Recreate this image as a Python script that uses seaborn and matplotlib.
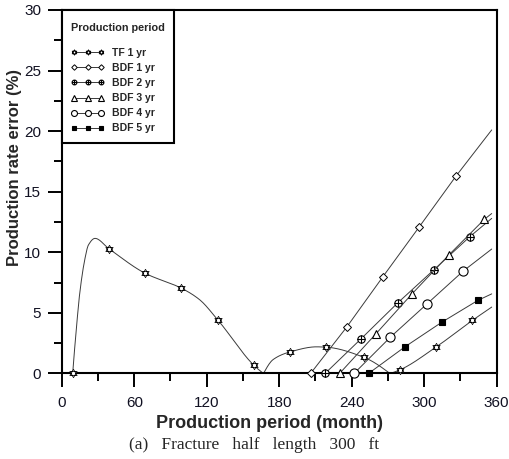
import numpy as np
import pandas as pd
import matplotlib
matplotlib.use("Agg")
import matplotlib.pyplot as plt
from matplotlib.path import Path
from matplotlib.lines import Line2D
from matplotlib.ticker import MultipleLocator
import seaborn as sns

# ---- data (production rate error, %) ----
tf_month = [9, 39, 69, 99, 129, 159, 189, 219, 250, 280, 310, 340]
tf_error = [0.0, 10.3, 8.27, 7.04, 4.44, 0.68, 1.78, 2.17, 1.34, 0.3, 2.19, 4.38]
# additional points on the TF curve (early peak, sign changes, last month)
tf_extra_month = [12.3, 15, 19.2, 22, 27.5, 114, 167, 175, 211, 271.7, 356]
tf_extra_error = [4.0, 6.76, 9.5, 10.6, 11.15, 6.1, 0.0, 1.15, 2.2, 0.0, 5.48]

bdf1_month = [206, 236, 266, 296, 326.5, 356]
bdf1_error = [0.0, 3.84, 8.0, 12.1, 16.3, 20.1]
bdf2_month = [218, 248, 278, 308, 338, 356]
bdf2_error = [0.0, 2.88, 5.81, 8.55, 11.3, 12.8]
bdf3_month = [230, 260, 290, 320.5, 350, 356]
bdf3_error = [0.0, 3.26, 6.57, 9.78, 12.73, 13.2]
bdf4_month = [242, 272, 302.5, 332.5, 356]
bdf4_error = [0.0, 2.99, 5.75, 8.46, 10.27]
bdf5_month = [254, 284, 314.5, 344.5, 356]
bdf5_error = [0.0, 2.19, 4.22, 6.03, 6.57]

series_labels = ["TF 1 yr", "BDF 1 yr", "BDF 2 yr", "BDF 3 yr", "BDF 4 yr", "BDF 5 yr"]
x_ticks = [0, 60, 120, 180, 240, 300, 360]
y_ticks = [0, 5, 10, 15, 20, 25, 30]


def pchip(x, y, xs):
    """Shape-preserving piecewise cubic Hermite curve through (x, y)."""
    x = np.asarray(x, float)
    y = np.asarray(y, float)
    h = np.diff(x)
    d = np.diff(y) / h
    n = len(x)
    m = np.zeros(n)
    for k in range(1, n - 1):
        if d[k - 1] * d[k] > 0:
            w1 = 2 * h[k] + h[k - 1]
            w2 = h[k] + 2 * h[k - 1]
            m[k] = (w1 + w2) / (w1 / d[k - 1] + w2 / d[k])
    if n > 2:
        for idx, (h0, h1, d0, d1) in ((0, (h[0], h[1], d[0], d[1])),
                                      (n - 1, (h[-1], h[-2], d[-1], d[-2]))):
            mm = ((2 * h0 + h1) * d0 - h0 * d1) / (h0 + h1)
            if np.sign(mm) != np.sign(d0):
                mm = 0.0
            elif np.sign(d0) != np.sign(d1) and abs(mm) > abs(3 * d0):
                mm = 3 * d0
            m[idx] = mm
    else:
        m[:] = d[0]
    i = np.clip(np.searchsorted(x, xs) - 1, 0, n - 2)
    t = (xs - x[i]) / h[i]
    h00 = 2 * t**3 - 3 * t**2 + 1
    h10 = t**3 - 2 * t**2 + t
    h01 = -2 * t**3 + 3 * t**2
    h11 = t**3 - t**2
    return h00 * y[i] + h10 * h[i] * m[i] + h01 * y[i + 1] + h11 * h[i] * m[i + 1]


def triangle_path(angles_deg):
    a = np.deg2rad(angles_deg)
    v = np.c_[np.cos(a), np.sin(a)]
    return Path(np.vstack([v, v[:1]]),
                [Path.MOVETO, Path.LINETO, Path.LINETO, Path.CLOSEPOLY])


def hexagram():
    return Path.make_compound_path(triangle_path([90, 210, 330]),
                                   triangle_path([270, 30, 150]))


def circle_plus():
    cross = Path([[-1, 0], [1, 0], [0, -1], [0, 1]],
                 [Path.MOVETO, Path.LINETO, Path.MOVETO, Path.LINETO])
    return Path.make_compound_path(Path.unit_circle(), cross)


sns.set_style("ticks")
plt.rcParams["font.family"] = ["Liberation Sans", "DejaVu Sans"]

fig = plt.figure(figsize=(5.1, 4.59), dpi=100)
ax = fig.add_axes([0.1212, 0.1863, 0.8524, 0.792])

LINE_C = "#3a3a3a"
LW = 0.7
styles = {
    "TF 1 yr": dict(marker=hexagram(), ms=6.0, mfc="white", mew=0.55),
    "BDF 1 yr": dict(marker="D", ms=4.3, mfc="white", mew=0.7),
    "BDF 2 yr": dict(marker=circle_plus(), ms=5.3, mfc="white", mew=0.8),
    "BDF 3 yr": dict(marker="^", ms=5.6, mfc="white", mew=0.8),
    "BDF 4 yr": dict(marker="o", ms=6.6, mfc="white", mew=0.8),
    "BDF 5 yr": dict(marker="s", ms=4.4, mfc="black", mew=0.8),
}

# TF 1 yr: smooth curve, split where the error changes sign
cm = np.array(tf_month + tf_extra_month, float)
ce = np.array(tf_error + tf_extra_error, float)
order = np.argsort(cm)
cm, ce = cm[order], ce[order]
zero_idx = [i for i in range(1, len(cm) - 1) if ce[i] == 0.0]
bounds = [0] + zero_idx + [len(cm) - 1]
curve_parts = []
for a, b in zip(bounds[:-1], bounds[1:]):
    xs = np.linspace(cm[a], cm[b], 200)
    curve_parts.append(pd.DataFrame({"month": xs, "error": pchip(cm[a:b + 1], ce[a:b + 1], xs),
                                     "part": a}))
curve = pd.concat(curve_parts, ignore_index=True)
sns.lineplot(data=curve, x="month", y="error", units="part", estimator=None,
             color=LINE_C, lw=LW, ax=ax, legend=False, clip_on=False)
tf_df = pd.DataFrame({"month": tf_month, "error": tf_error})
sns.lineplot(data=tf_df, x="month", y="error", ax=ax, lw=0, color=LINE_C,
             mec="black", clip_on=False, zorder=4, **styles["TF 1 yr"])

bdf = [(bdf1_month, bdf1_error), (bdf2_month, bdf2_error), (bdf3_month, bdf3_error),
       (bdf4_month, bdf4_error), (bdf5_month, bdf5_error)]
for label, (mo, er) in zip(series_labels[1:], bdf):
    df = pd.DataFrame({"month": mo, "error": er})
    sns.lineplot(data=df, x="month", y="error", ax=ax, color=LINE_C, lw=LW,
                 mec="black", markevery=slice(0, len(mo) - 1),
                 clip_on=False, zorder=4, **styles[label])

ax.set_xlim(0, 360)
ax.set_ylim(0, 30)
ax.set_xticks(x_ticks)
ax.set_yticks(y_ticks)
ax.xaxis.set_minor_locator(MultipleLocator(30))
ax.yaxis.set_minor_locator(MultipleLocator(2.5))
ax.tick_params(which="major", direction="out", length=10, width=1.4,
               labelsize=11, color="black", labelcolor="#111122")
ax.tick_params(axis="x", which="major", pad=6)
ax.tick_params(axis="y", which="major", pad=5)
ax.tick_params(which="minor", direction="out", length=5.5, width=1.4, color="black")
for s in ax.spines.values():
    s.set_visible(True)
    s.set_linewidth(1.5)
    s.set_color("black")

ax.set_xlabel("Production period (month)", fontsize=13, fontweight="bold")
ax.set_ylabel("Production rate error (%)", fontsize=12, fontweight="bold")
ax.xaxis.set_label_coords(0.4767, -0.113)
ax.yaxis.set_label_coords(-0.092, 0.567)

handles = [Line2D([], [], color=LINE_C, lw=LW, mec="black", **styles[l])
           for l in series_labels]
leg = ax.legend(handles, series_labels, title="\nProduction period", loc="upper left",
                bbox_to_anchor=(0, 1), borderaxespad=0, numpoints=3, markerscale=0.65,
                handlelength=3.2, handletextpad=0.7, labelspacing=0.49,
                prop={"weight": "bold", "size": 7.5}, fancybox=False, framealpha=1,
                edgecolor="black", borderpad=0.9)
title = leg.get_title()
title.set_fontweight("bold")
title.set_fontsize(7.8)
title.set_linespacing(0.25)
leg.get_frame().set_linewidth(1.5)
leg._legend_box.align = "left"
leg._legend_box.sep = 10.5

fig.text(0.498, 0.031, "(a)   Fracture   half   length   300   ft", ha="center", va="center",
         fontsize=12.5, family=["Liberation Serif", "DejaVu Serif"])

fig.savefig("out.png", dpi=100, facecolor="white")
